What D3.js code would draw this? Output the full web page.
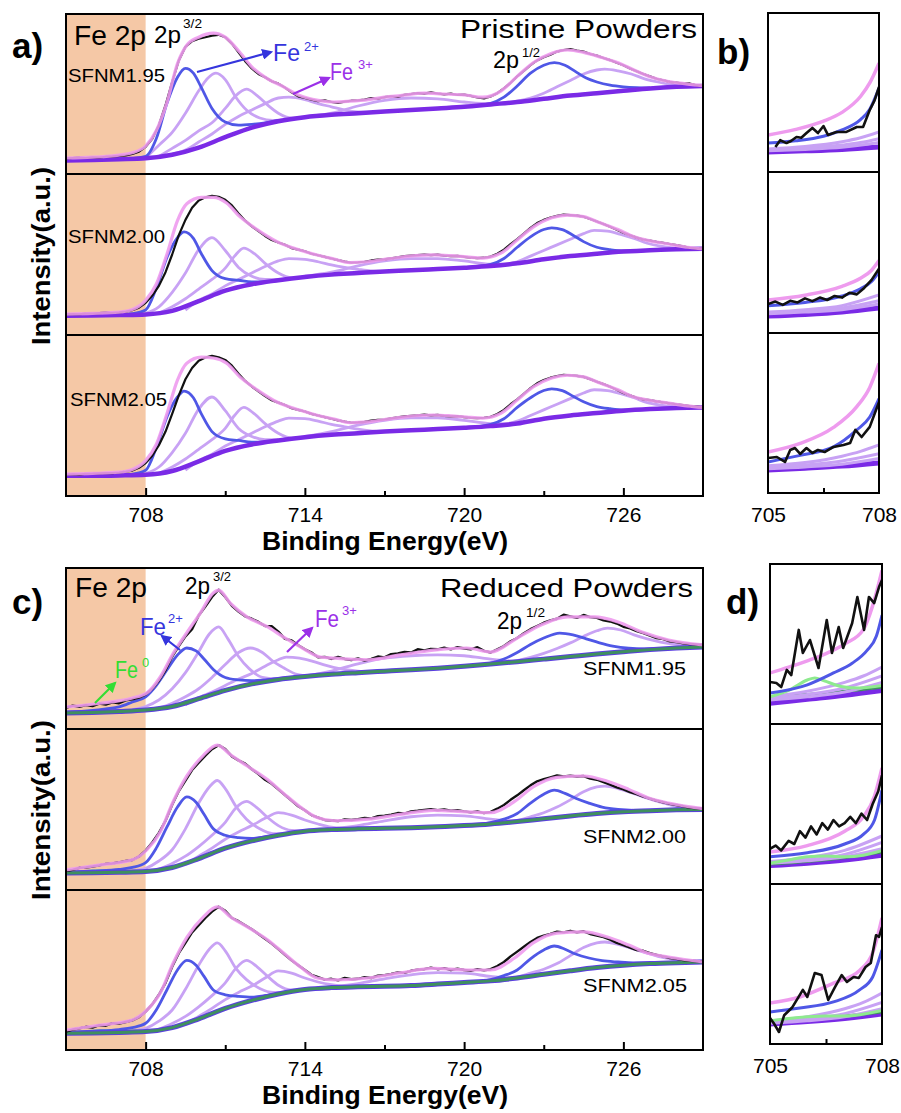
<!DOCTYPE html>
<html><head><meta charset="utf-8">
<script src="https://cdn.jsdelivr.net/npm/d3@7"></script>
<style>
body{margin:0;background:#fff}
svg{display:block}
text{font-family:Arial,"Liberation Sans",sans-serif}
</style>
</head><body>
<svg id="chart" width="901" height="1113"></svg>
<script>
// ---------------- DATA ----------------
const eMin = 705, eMax = 729;
const majorTicks = [708, 714, 720, 726];
const minorTicks = [711, 717, 723];
const zoomTicks = [705, 708];
const zoomMinor = [706.5];
const bgStep = 1;      // background values every 1 eV from 705
const dataStep = 0.25; // measured spectrum every 0.25 eV from 705

// ---- a1 : pristine SFNM1.95 ----
const a1Bg = [8.5,8.8,9.2,9.8,12,16.5,23,29,33,35.5,37,38,39,40,41,42,43.5,45,47,49,50.5,52,53.5,54.5,55];
const a1Fe2a = [[707,9.3],[707.5,9.8],[708,11],[708.4,22],[708.8,44],[709.2,60.5],[709.5,66],[709.8,63],[710.1,54],[710.5,41],[711,32.5],[711.5,30.5],[712,31],[712.5,32],[713,33.5]];
const a1Fe2b = [[720,42],[721,44.2],[721.5,48],[722,55],[722.5,63],[723,68],[723.4,69.6],[723.8,68],[724.2,64],[724.6,60],[725,57.5],[725.5,55.5],[726,54.5],[726.5,54],[727,53.8]];
const a1Fe3a = [[708,10],[708.5,18],[709,26],[709.5,38],[710,52],[710.35,60],[710.65,63],[711,59],[711.4,48],[711.8,40],[712.3,35],[712.8,33.5],[713.3,34.2]];
const a1Fe3b = [[708.5,11],[709,16],[709.5,21],[710,27],[710.5,32],[711,41],[711.4,49],[711.8,53],[712.2,49],[712.6,43],[713,38],[713.5,35],[714,35.5]];
const a1Fe3c = [[709,12.5],[709.5,15],[710,20],[710.5,25],[711,31],[711.5,36],[712,40],[712.5,44],[713,47.5],[713.4,48],[714,46.5],[714.5,44],[715,42],[715.5,40],[716,38.8],[716.5,38.5]];
const a1Sat = [[714,35.6],[715,38],[716,42.5],[717,46],[718,47.5],[719,47],[720,45],[721,43.8],[722,45]];
const a1Fe3d = [[721,43.5],[722,45.5],[722.5,47.5],[723,50.5],[723.5,54.5],[724,58.5],[724.5,62.5],[725,65],[725.3,65.6],[725.8,64.5],[726.3,62.5],[726.8,59.5],[727.3,57.5],[727.8,56],[728.5,55],[729,55]];
const a1Fit = [[705,10],[706,10.5],[707,11.8],[707.5,13.3],[708,17.5],[708.4,27],[708.8,44.5],[709.2,69],[709.55,80.5],[710,85.5],[710.55,88],[711,85.5],[711.5,77],[712,67],[712.6,59.5],[713.2,54.5],[713.8,49],[714.5,46],[715.1,45],[715.7,45.5],[716.4,46.5],[717,48],[717.6,49],[718.5,50.5],[719.2,50],[720,49.4],[720.7,48],[721.4,52],[722,61],[722.6,69.5],[723.3,75.5],[723.9,77.5],[724.5,76],[725.15,73],[725.8,69.5],[726.4,65],[727,60.8],[727.7,57.8],[728.3,56.5],[729,55.2]];
const a1Data = [
 9.8,10,10.2,10, 10.4,10.3,10.8,11, 11.3,11.6,12.5,14, 17,22,30.5,43, 57.5,71,79.5,83,
 84.5,85.5,86.5,87, 85.5,81.5,76,70.5, 66,62.5,60.5,58, 56.5,54,51,48.5, 47.5,46.5,45.5,46,
 45,44.5,45.2,45.8, 46,46.5,47.4,47, 48,48.6,48.2,49.5, 50,50.6,50.2,51, 50.3,49.8,50.2,49.4,
 49.6,48.8,47.8,47.2, 48.5,50.5,53.5,57, 61,64.5,68,71, 73,74.5,76.5,77.5, 78,77.2,76.5,75,
 74,72.5,71.2,69.5, 68,66,64.2,62.5, 61,59.5,58.6,57.6, 57.2,56.5,56.6,55.5, 55.2];

// ---- a2 : pristine SFNM2.00 ----
const a2Bg = [12,12.1,12.4,12.8,15,21,27.5,31.5,34,36,37.5,38.5,39.5,40.2,41,41.8,42.8,44.5,47,49,50.5,51.8,52.7,53.2,53.5];
const a2Fe2a = [[707,12.6],[707.5,13.2],[708,15.5],[708.4,29],[708.8,48],[709.2,60.5],[709.45,64],[709.8,60],[710.1,50.5],[710.5,40],[711,35],[711.5,34],[712,33],[712.5,33],[713,34]];
const a2Fe2b = [[720,41.8],[721,43.8],[721.5,47.5],[722,54.5],[722.5,61],[723,65.5],[723.3,66.5],[723.7,65.5],[724.1,62],[724.5,58],[725,54.5],[725.5,53],[726,52.2],[726.5,52.2],[727,52.6]];
const a2Fe3a = [[708,13.5],[708.5,17.5],[709,26.5],[709.5,38.5],[710,53],[710.5,60.5],[711,52.5],[711.5,42],[712,36.5],[712.5,34.5],[713,34.5]];
const a2Fe3b = [[708.5,13.5],[709,17.5],[709.5,22.5],[710,28.5],[710.5,34.5],[711,41.5],[711.35,49],[711.7,54],[712.1,50.5],[712.5,44.5],[713,38.5],[713.5,35.5],[714,36]];
const a2Fe3c = [[709.5,15.5],[710,21.5],[710.5,25.5],[711,30.5],[711.5,34.5],[712,38.5],[712.5,42.5],[713,46],[713.4,47.5],[714,47],[714.5,45.5],[715,43.5],[715.5,42],[716,40.8],[716.5,39.8],[717,39.5]];
const a2Sat = [[714,36.5],[715,39],[716,43],[717,46],[718,47.5],[719,47.5],[720,46],[721,44],[721.8,44],[722.5,45.5]];
const a2Fe3d = [[721,42.8],[722,45.5],[722.5,49],[723,52.5],[723.5,56],[724,59.5],[724.5,63],[724.9,65],[725.4,64.5],[725.9,62.5],[726.4,60],[726.9,57],[727.4,55.2],[728,54],[729,53.5]];
const a2Fit = [[705,13],[706,13.4],[707,14.2],[707.5,15.8],[708,21.5],[708.4,31.5],[708.8,50],[709.2,71],[709.55,81.5],[710.1,85.5],[710.55,85.5],[711.05,82],[711.55,73.5],[712.2,65.5],[712.95,58],[713.8,52.8],[714.5,49.5],[715.1,47.2],[715.7,45],[716.35,45.5],[717,47],[717.6,48.3],[718.3,49.5],[718.85,49.8],[719.5,49.3],[720.1,48.5],[720.7,47.8],[721.4,51],[722,59],[722.6,67],[723.3,72.8],[723.9,74.5],[724.5,73.5],[725.15,69.5],[725.8,65.5],[726.4,61],[727,58.5],[727.7,56.5],[728.4,54.5],[729,53.5]];
const a2Data = [
 12.8,13,12.9,13.3, 13.3,13.6,13.9,13.8, 14,14.6,15.4,17, 20,24.5,30.5,39, 50,62,71.5,79,
 83.5,85.5,86.5,85.8, 84,80.5,75.5,71, 67.5,64.5,61.5,59, 57.5,56,54,53, 52,50.5,49.5,48.5,
 47.5,46.5,45.6,45, 45.2,45.5,46.3,46.8, 47,47.6,48.2,49, 49.3,49.6,50,49.6, 49.9,49.3,49,49.1,
 48.5,48,47.8,48, 48.7,50.5,53,56.5, 59.5,63,66.5,69.5, 71.5,73,74,74.8, 74.5,74.1,73.5,72,
 70.5,69,67.2,65.4, 63.5,62,60.5,59.3, 58.6,57.8,57.2,56.5, 55.8,55,54.2,53.8, 53.5];

// ---- a3 : pristine SFNM2.05 ----
const a3Bg = [12.6,12.6,12.8,13.2,15.5,21.5,28,32,34.5,36.5,38,39,40,40.8,41.6,42.4,43.4,45,48,50,51.5,53,54,54.7,55];
const a3Fe2a = [[707,13],[707.5,13.6],[708,16],[708.4,30],[708.8,49],[709.2,61.5],[709.45,65.2],[709.8,61],[710.1,51],[710.5,40],[711,35.5],[711.5,34.5],[712,33.5],[712.5,33.5],[713,34.5]];
const a3Fe2b = [[720,42.4],[721,44.5],[721.5,48],[722,55],[722.5,61],[723,65.5],[723.3,66.5],[723.7,65.5],[724.1,62],[724.5,58.5],[725,55.5],[725.5,54.2],[726,53.5],[726.5,53.5],[727,54]];
const a3Fe3a = [[708,14],[708.5,18],[709,27],[709.5,39],[710,54],[710.5,61.5],[711,53],[711.5,42],[712,37],[712.5,35],[713,35]];
const a3Fe3b = [[708.5,14],[709,18],[709.5,23],[710,29],[710.5,35],[711,42],[711.35,50],[711.7,55],[712.1,51],[712.5,45],[713,39],[713.5,36],[714,36.5]];
const a3Fe3c = [[709.5,16],[710,22],[710.5,26],[711,31],[711.5,35],[712,39],[712.5,43],[713,46.5],[713.4,48.4],[714,48],[714.5,46.5],[715,44.5],[715.5,43],[716,41.5],[716.5,40.5],[717,40]];
const a3Sat = [[714,37],[715,40],[716,44],[717,47],[718,48.5],[719,48.5],[720,47],[721,45],[721.8,45],[722.5,46.5]];
const a3Fe3d = [[721,43.5],[722,46.5],[722.5,50],[723,53.5],[723.5,57],[724,60.5],[724.5,64],[724.9,66],[725.4,65.5],[725.9,63.5],[726.4,61],[726.9,58],[727.4,56.5],[728,55.5],[729,55]];
const a3Fit = [[705,13.6],[706,14],[707,14.8],[707.5,16.5],[708,22],[708.4,32],[708.8,51],[709.2,72],[709.55,82.5],[710.1,86.3],[710.55,85.7],[711.05,82.5],[711.55,74],[712.2,66],[712.95,58.4],[713.8,53.4],[714.5,50],[715.1,47.8],[715.7,45.5],[716.35,46],[717,47.5],[717.6,48.8],[718.3,50],[718.85,50.3],[719.5,49.8],[720.1,49],[720.7,48.4],[721.4,51.5],[722,59.6],[722.6,67.7],[723.3,73.3],[723.9,75],[724.5,74],[725.15,70],[725.8,66],[726.4,61.5],[727,59.5],[727.7,57.7],[728.4,56],[729,55]];
const a3Data = [
 13.2,13.5,13.3,13.8, 13.9,14.1,14.3,14.2, 14.6,15.1,15.8,17.5, 20.5,25,31.5,40, 51,62.5,72.5,79.5,
 84,86,87,86.2, 84.5,81,76,71.5, 68,65,62,59.5, 58,56.5,54.5,53.5, 52.5,51,50,49,
 48,47,46.2,45.5, 45.7,46,46.8,47.3, 47.5,48.2,48.8,49.5, 49.8,50.1,50.5,50.1, 50.4,49.8,49.5,49.6,
 49,48.5,48.4,48.6, 49.2,51,53.5,57, 60,63.5,67,70, 72,73.5,74.5,75.3, 75,74.6,74,72.6,
 71,69.5,67.8,66, 64,62.5,61,60, 59.5,58.8,58.2,57.5, 57,56.5,55.8,55.5, 55];

// ---- c1 : reduced SFNM1.95 ----
const c1Bg = [9.9,10.3,10.9,11.8,14,18.8,24,28,30.8,32.6,34,35,35.9,36.8,37.8,39,40.3,41.8,43.4,45,46.6,48,49.3,50.3,51];
const c1Fe0 = [[705,10.2],[705.5,10.8],[706,11.5],[706.4,12],[706.8,11.8],[707.2,11.3],[707.6,11.5],[708,12]];
const c1Fe2a = [[705,10.4],[706,11.5],[706.5,12.5],[707,13.7],[707.5,16.8],[708,20],[708.4,27],[708.8,36.6],[709.2,46],[709.55,50.3],[709.9,48.5],[710.2,43.5],[710.55,37],[711,32],[711.5,30.5],[712,30],[712.5,30.5],[713,31.2]];
const c1Fe2b = [[720,39],[721,41],[721.5,43.5],[722,47.5],[722.5,52.5],[723,56.5],[723.6,59.6],[724.1,58.5],[724.6,56],[725.1,53.5],[725.6,51.5],[726.2,50.2],[726.8,49.8],[727.5,50]];
const c1Fe3a = [[707.5,12],[708,14],[708.5,18],[709,25],[709.5,35],[710,48],[710.4,59],[710.75,63.4],[711.1,56],[711.5,45],[711.9,37.5],[712.4,32],[713,31]];
const c1Fe3b = [[708.5,13],[709,16],[709.5,20],[710,25],[710.5,32],[711,40],[711.5,47.5],[711.95,50.3],[712.4,47.5],[712.8,42],[713.2,38],[713.7,34],[714.2,33]];
const c1Fe3c = [[709.5,15],[710,19.5],[710.5,23],[711,27],[711.5,31],[712,34.5],[712.5,39],[713,43],[713.3,44.7],[713.8,44],[714.3,42],[714.8,39.5],[715.3,37.5],[716,36],[716.5,35.5]];
const c1Sat = [[714,33],[715,36],[716,40.5],[717,44],[718,45.5],[719,46],[720,45.5],[720.7,44],[721.5,42.5],[722,42]];
const c1Fe3d = [[721,40.5],[722,42.5],[722.5,44.5],[723,47],[723.5,50],[724,53.5],[724.5,57.5],[725,61],[725.4,62.7],[725.9,61.5],[726.4,58.5],[726.9,56],[727.4,54],[728,52.5],[729,51.5]];
const c1Fit = [[705,13.7],[706.3,16],[707.5,19.3],[708.05,22.4],[708.55,32.3],[709.04,47],[709.56,60],[710.06,72],[710.55,84.5],[710.75,86.3],[711.2,78],[711.83,69.5],[712.6,63.4],[713.2,57],[713.83,51],[714.58,44.7],[715.1,44],[716.4,43],[717.6,46],[718.85,49],[720.1,50.3],[721,47.8],[722,56.5],[722.9,64.6],[723.9,69.6],[724.9,69.6],[725.8,66.5],[726.7,60.2],[727.7,55.3],[729,52.2]];
const c1Data = [
 13.2,14.5,13.8,14.8, 14.2,15.8,15.2,16.6, 16,17.8,18.5,19.5, 21.5,25,30,36.5, 45,51.5,57.5,62,
 70.5,76,82,86.5, 82,76.5,73,70, 68.5,66.5,64,63.8, 60.5,56,55,52, 49.5,47.5,44.5,44.8,
 43.5,44.8,43.5,42.8, 43.8,42.5,43.5,45, 44.5,46.5,47,47.8, 47.5,49.5,48.8,49.8, 49.5,50.5,49.5,50.8,
 50,49.5,50.8,48.5, 47.5,49.5,51.5,54.5, 56.5,59.5,62,64, 66,67.5,68.5,71, 70,69,70.8,69.5,
 69,67.5,66.8,65.5, 63.5,62.5,60.8,59.5, 58,56.5,55.8,54.5, 54,53.2,52.8,52.5, 52.2];

// ---- c2 : reduced SFNM2.00 ----
const c2Bg = [10.5,10.7,11,11.5,14,19.5,26,30.5,34,36.5,37.5,38,38.3,38.7,39.3,40,41,42.5,44.3,46,47.5,48.6,49.3,49.8,50];
const c2Fe0 = [[705,10.8],[705.5,11.3],[706,11.9],[706.5,12.2],[707,11.9],[707.5,11.8],[708,12]];
const c2Fe2a = [[705,11],[706,11.8],[707,12.8],[707.5,14],[708,17],[708.4,26],[708.8,39],[709.2,51.5],[709.55,57.8],[709.9,54.5],[710.2,47],[710.55,38],[711,34],[711.5,32.5],[712,32],[712.5,33],[713,34.3]];
const c2Fe2b = [[720,40],[721,41.8],[721.5,44],[722,47.5],[722.5,54],[723,59.5],[723.4,62],[723.8,60],[724.2,57],[724.7,54],[725.2,51.5],[725.8,50],[726.4,49.5],[727,49.5]];
const c2Fe3a = [[707.5,12],[708,13.5],[708.5,18],[709,25],[709.5,38],[710,54],[710.4,64],[710.7,68],[711,63],[711.4,52],[711.8,44],[712.3,38],[712.8,35],[713.3,35]];
const c2Fe3b = [[708.5,13],[709,16.5],[709.5,21],[710,27],[710.5,34],[711,42],[711.4,51],[711.8,55],[712.2,51],[712.6,45],[713,40],[713.5,37],[714,36.8]];
const c2Fe3c = [[709.5,16],[710,21],[710.5,26],[711,31.5],[711.5,36],[712,40],[712.5,44.5],[713,48],[713.5,46.5],[714,43.5],[714.5,41],[715,39],[715.5,38.2],[716,38]];
const c2Sat = [[714,36.5],[715,38],[716,40],[717,43],[718,45.5],[719,46.5],[720,46],[721,44],[721.7,43],[722.3,43]];
const c2Fe3d = [[721,41.5],[722,43.2],[722.5,45.5],[723,48],[723.5,51.5],[724,56],[724.5,61],[725,64],[725.3,64.5],[725.8,63],[726.3,60.5],[726.8,57.5],[727.3,55],[728,52],[729,50.5]];
const c2Fit = [[705,12.5],[706.3,15.6],[707.5,18.8],[708.05,25],[708.55,36],[709.04,55],[709.56,71],[710.17,83.5],[710.7,90],[711.2,84],[711.83,77],[712.6,68.5],[713.2,60],[713.83,51.5],[714.46,45],[715.1,43],[716.4,44],[717.6,47],[718.85,49.5],[720.1,48.5],[721,48],[721.9,55],[722.6,64],[723.5,70],[724.5,70.8],[725.4,67.5],[726.2,62.5],[726.9,57.5],[727.7,54],[729,50.5]];
const c2Data = [
 11.8,12.5,13.8,14, 14.6,15.3,16.2,16.5, 17.2,18,18.6,20.8, 24.5,29.5,35.5,43, 53,61.5,68,74.5,
 79,83.5,87.5,90, 87.5,83,80.5,78.5, 75,72,68.5,66, 62.5,59,55.5,52, 49.5,46.5,45,43.5,
 43.2,42.8,43.8,43.5, 44,44.8,44.5,45.8, 46.2,46.8,47.8,47.5, 48.8,49.2,49.8,50.2, 49.5,50,49.2,49.5,
 48.8,48.2,48.8,47.8, 48.5,50.5,52.8,56, 58.8,62,65,67.5, 68.8,70,71.2,70.5, 71,70.5,70.8,69.2,
 68.5,67,65.5,63.8, 62.5,60.8,59.5,58, 56.8,55.5,54.5,53.5, 52.8,52,51.2,50.8, 50.5];

// ---- c3 : reduced SFNM2.05 ----
const c3Bg = [10.4,10.6,11,11.5,14,19.5,26,31,35,37.8,39,39.5,39.8,40.3,41.2,42.2,43.2,45,47.3,49.5,51.5,53,54,54.6,55];
const c3Fe0 = [[705,10.8],[705.5,11.3],[706,11.9],[706.5,12.3],[707,12.1],[707.5,12],[708,12.2]];
const c3Fe2a = [[705,11],[706,11.8],[707,12.8],[707.5,14],[708,16.7],[708.4,25],[708.8,37.5],[709.2,50],[709.55,56],[709.9,53],[710.2,46],[710.55,37.5],[711,34.5],[711.5,33.5],[712,33],[712.5,34],[713,35.3]];
const c3Fe2b = [[720,42.2],[721,44],[721.5,46.5],[722,50],[722.5,57],[723,62.5],[723.4,65],[723.8,63],[724.2,60],[724.7,57.5],[725.2,55.8],[725.8,55],[726.4,54.5],[727,54.5]];
const c3Fe3a = [[707.5,12],[708,13.5],[708.5,18],[709,25],[709.5,38],[710,53],[710.4,63],[710.7,66.9],[711,62],[711.4,51],[711.8,44],[712.3,38.5],[712.8,36],[713.3,36]];
const c3Fe3b = [[708.5,13],[709,16.5],[709.5,21],[710,27],[710.5,34],[711,42],[711.4,51],[711.8,56],[712.2,52],[712.6,46],[713,40.5],[713.5,37.5],[714,38]];
const c3Fe3c = [[709.5,16],[710,21],[710.5,26],[711,31.5],[711.5,36],[712,40],[712.5,45],[713,49.4],[713.5,48],[714,45],[714.5,42.5],[715,40.8],[715.5,39.8],[716,39.5]];
const c3Sat = [[714,38],[715,39.5],[716,41.5],[717,44.5],[718,47],[719,48.3],[720,48],[721,46],[721.7,45],[722.3,45.5]];
const c3Fe3d = [[721,43.5],[722,45.5],[722.5,48],[723,50.5],[723.5,54],[724,59],[724.5,64],[725,67],[725.3,67.5],[725.8,66],[726.3,63.5],[726.8,61],[727.3,58.5],[728,56.5],[729,55.5]];
const c3Fit = [[705,12.5],[706.3,15.6],[707.5,18.8],[708.05,25],[708.55,35.6],[709.04,54.4],[709.56,70.6],[710.17,83.1],[710.7,89.4],[711.2,83.1],[711.83,76.9],[712.6,68.8],[713.2,60.6],[713.83,51.9],[714.46,45],[715.1,43.8],[716.4,45],[717.6,48.2],[718.85,51],[720.1,50],[721,50],[721.9,57.5],[722.6,66.9],[723.5,73],[724.5,73.8],[725.4,70.6],[726.2,65.6],[726.9,60.6],[727.7,58.1],[729,55]];
const c3Data = [
 11.5,12.8,13.5,14.5, 14,15.5,15.2,16.8, 16.5,17.5,18.5,20.5, 24,28.5,34.5,42, 52,60.5,67,73.5,
 78,82.5,86.5,89.5, 87,82.5,80.5,78, 75.5,72.5,69.5,66.5, 63,59.5,56,53, 50,47,45.5,44,
 44.5,43.5,45,44.2, 44.5,45.5,45,46.5, 46.8,47.5,48.5,48.2, 49.5,50.2,50.5,51.5, 50.5,51.2,50,50.8,
 50,49.5,50.5,49.8, 50.5,52.5,55,58.5, 61.5,64.5,67.5,70, 71.5,72.5,74,73.5, 74.5,73.5,74.2,72.5,
 71.5,70.5,69,67, 65.5,64,62.5,62, 60.5,59.5,58.5,57.5, 57,56.2,55.8,55.5, 55];

// ---- b : zoom 705-708 of pristine ----
const b1Fit = [[705,23.3],[705.75,26.8],[706.5,32],[707,37.5],[707.5,47.5],[707.75,56],[708,68.5]];
const b1Fe2 = [[705,18.2],[705.75,19.6],[706.5,22.5],[707,26.5],[707.5,33],[707.75,39.5],[708,52.8]];
const b1Data = [[705.2,15.7],[705.33,20],[705.5,18.2],[705.62,19.5],[705.77,22],[705.9,21.5],[706.04,24.5],[706.2,27.7],[706.35,24.5],[706.5,28.9],[706.62,23.3],[706.85,25.2],[707.12,25.2],[707.4,28.3],[707.57,28.3],[707.75,39],[707.88,45],[708,53.5]];
const b1Fe3 = [[[705,14.5],[706,16],[707,19],[707.5,21.5],[708,25.2]],[[705,13.8],[706,15],[707,17],[707.5,18.5],[708,21]],[[705,13.3],[706,14.2],[707,15.5],[708,18.5]]];
const b1Bg = [[705,12.6],[706,13.3],[707,14.2],[708,15.7]];

const b2Fit = [[705,20.5],[706,23.5],[707,29],[707.5,34],[707.8,39],[708,45]];
const b2Fe2 = [[705,17],[706,19],[707,23],[707.5,27.5],[707.8,32],[708,38]];
const b2Data = [[705,18],[705.2,19.5],[705.4,17.5],[705.6,20],[705.8,19],[706,21.5],[706.2,19.8],[706.4,22],[706.6,20.5],[706.8,23],[707,22],[707.2,25],[707.4,24],[707.6,28],[707.8,33],[708,40]];
const b2Fe3 = [[[705,13],[706,14.5],[707,17],[708,23.6]],[[705,12.5],[706,13.5],[707,15.5],[708,20]],[[705,12],[706,13],[707,14.5],[708,18]]];
const b2Bg = [[705,10.5],[706,11.5],[707,13],[708,15.5]];

const b3Fit = [[705,25.6],[705.87,31],[706.77,41],[707.4,54],[707.75,66],[708,81]];
const b3Fe2 = [[705,19.4],[705.87,23.5],[706.77,28.8],[707.4,39.4],[707.75,47.5],[708,59]];
const b3Data = [[705,21.9],[705.24,22.5],[705.46,19.4],[705.6,26.9],[705.73,28.1],[705.87,24.4],[706.04,28.1],[706.2,25],[706.35,26.9],[706.53,25.6],[706.77,28.8],[707.04,30],[707.22,31.3],[707.36,39.4],[707.53,35],[707.75,41.3],[708,56.9]];
const b3Fe3 = [[[705,17],[706,19],[707,23],[707.5,26],[708,30]],[[705,16],[706,17.5],[707,20],[708,24.5]],[[705,15.2],[706,16.3],[707,18],[708,21.5]]];
const b3Bg = [[705,14.4],[706,15.5],[707,16.8],[708,18.8]];

// ---- d : zoom 705-708 of reduced ----
const d1Fit = [[705,31.9],[705.5,35.5],[706,39.5],[706.5,44],[707,50],[707.5,59],[707.75,74],[708,96]];
const d1Fe2 = [[705,19.4],[706,24.5],[706.7,31.9],[707.2,38],[707.6,46],[707.85,55],[708,68]];
const d1Data = [[705,26.3],[705.17,25.6],[705.3,23.1],[705.45,33.8],[705.57,30.6],[705.77,58.8],[705.88,44.4],[706.07,52.5],[706.3,35],[706.52,65],[706.66,44.4],[706.84,60.6],[706.96,47.5],[707.2,63],[707.34,79.4],[707.52,58.8],[707.65,79.4],[707.79,75.6],[707.92,85.6],[708,90]];
const d1Fe0 = [[705,17],[705.5,21],[706,27.5],[706.2,28.8],[706.45,27],[706.9,23.5],[707.4,22.5],[708,24]];
const d1Fe3 = [[[705,17],[706,20.5],[707,26],[707.5,30],[708,35.6]],[[705,16],[706,18.5],[707,22.5],[708,30]],[[705,15],[706,17],[707,20],[708,26]]];
const d1BgG = [[705,17],[706,18.5],[707,20.5],[708,23]];
const d1Bg = [[705,13],[706,15.5],[707,18],[708,21]];

const d2Fit = [[705,20],[706,24],[707,33],[707.5,42],[707.8,55],[708,72.5]];
const d2Fe2 = [[705,17],[706,19.5],[707,25],[707.5,31],[707.8,40],[708,58.8]];
const d2Data = [[705,22],[705.15,24],[705.3,21],[705.5,27],[705.65,25],[705.8,33],[705.95,29],[706.1,36],[706.25,31],[706.4,38],[706.55,34],[706.7,40],[706.85,36],[707,38],[707.15,42],[707.3,38],[707.45,44],[707.6,40],[707.75,50],[707.9,58],[708,68]];
const d2Fe0 = [[705,13],[705.5,15],[706,17],[706.5,17.5],[707,17],[707.5,18],[708,21]];
const d2Fe3 = [[[705,14],[706,16.5],[707,21],[708,30]],[[705,13.5],[706,15],[707,18.5],[708,26]],[[705,13],[706,14.5],[707,17],[708,22]]];
const d2BgG = [[705,12.5],[706,14],[707,16.5],[708,20]];
const d2Bg = [[705,11.5],[706,13],[707,15],[708,18]];

const d3Fit = [[705,25.6],[705.8,29.4],[706.7,38],[707.4,46],[707.75,56.9],[708,78.8]];
const d3Fe2 = [[705,20],[705.8,22.5],[706.7,26.3],[707.4,33.8],[707.75,41.9],[708,58.8]];
const d3Data = [[705,16.3],[705.1,13],[705.24,7.5],[705.38,18],[705.6,23],[705.88,33.8],[706,29.4],[706.2,44.4],[706.38,43.1],[706.56,27.5],[706.74,35.6],[706.92,43.1],[707.06,38.8],[707.24,41.9],[707.38,41.3],[707.56,48.1],[707.7,50.6],[707.84,68],[707.92,67],[708,73]];
const d3Fe0 = [[705,14.5],[706,17],[706.5,17.5],[707,17.5],[708,21]];
const d3Fe3 = [[[705,14.4],[706,17],[707,22],[707.5,26],[708,31.9]],[[705,13.5],[706,15.5],[707,19],[708,26]],[[705,13],[706,14.5],[707,17],[708,22]]];
const d3BgG = [[705,13.8],[706,15.5],[707,17.5],[708,20]];
const d3Bg = [[705,12.5],[706,14],[707,16],[708,18.8]];

// ---------------- DRAWING ----------------
const COL = {fit:"#ee9bee", data:"#111111", fe2:"#4f57e6", fe3:"#c8a2f4", bg:"#7a2ae6",
             bgG:"#3f905e", fe0:"#8eea8e", shade:"#f5c8a6", lblFe2:"#3535dd", lblFe3:"#9b30e8", lblFe0:"#33dd33"};
const svg = d3.select("#chart");
const defs = svg.append("defs");
let clipN = 0;
function clip(x, y, w, h){
  const id = "clip" + (clipN++);
  defs.append("clipPath").attr("id", id).append("rect").attr("x", x).attr("y", y).attr("width", w).attr("height", h);
  return `url(#${id})`;
}
function pairs(vals, start, step){ return vals.map((v, i) => [start + i * step, v]); }

function mk(bg, fe2, fe3, fit, data, fe0){ return {bg, fe2, fe3, fit, data, fe0}; }
const panelASubs = [
  mk(a1Bg, [a1Fe2a, a1Fe2b], [a1Fe3a, a1Fe3b, a1Fe3c, a1Sat, a1Fe3d], a1Fit, a1Data),
  mk(a2Bg, [a2Fe2a, a2Fe2b], [a2Fe3a, a2Fe3b, a2Fe3c, a2Sat, a2Fe3d], a2Fit, a2Data),
  mk(a3Bg, [a3Fe2a, a3Fe2b], [a3Fe3a, a3Fe3b, a3Fe3c, a3Sat, a3Fe3d], a3Fit, a3Data)];
const panelCSubs = [
  mk(c1Bg, [c1Fe2a, c1Fe2b], [c1Fe3a, c1Fe3b, c1Fe3c, c1Sat, c1Fe3d], c1Fit, c1Data, c1Fe0),
  mk(c2Bg, [c2Fe2a, c2Fe2b], [c2Fe3a, c2Fe3b, c2Fe3c, c2Sat, c2Fe3d], c2Fit, c2Data, c2Fe0),
  mk(c3Bg, [c3Fe2a, c3Fe2b], [c3Fe3a, c3Fe3b, c3Fe3c, c3Sat, c3Fe3d], c3Fit, c3Data, c3Fe0)];

const xMain = d3.scaleLinear().domain([eMin, eMax]).range([66, 703]);

function drawMain(tops, subs, reduced){
  const L = 66, R = 703;
  svg.append("rect").attr("x", L).attr("y", tops[0]).attr("width", xMain(708) - L)
     .attr("height", tops[3] - tops[0]).attr("fill", COL.shade);
  subs.forEach((s, i) => {
    const y = d3.scaleLinear().domain([0, 100]).range([tops[i + 1], tops[i]]);
    const g = svg.append("g").attr("clip-path", clip(L, tops[i], R - L, tops[i + 1] - tops[i]));
    const sm = d3.line().x(d => xMain(d[0])).y(d => y(d[1])).curve(d3.curveMonotoneX);
    const ln = d3.line().x(d => xMain(d[0])).y(d => y(d[1]));
    s.fe3.forEach(c => g.append("path").attr("d", sm(c)).attr("fill", "none").attr("stroke", COL.fe3).attr("stroke-width", 2.8));
    if (s.fe0) g.append("path").attr("d", sm(s.fe0)).attr("fill", "none").attr("stroke", COL.fe0).attr("stroke-width", 2.5);
    s.fe2.forEach(c => g.append("path").attr("d", sm(c)).attr("fill", "none").attr("stroke", COL.fe2).attr("stroke-width", 2.8));
    const bgP = pairs(s.bg, eMin, bgStep);
    g.append("path").attr("d", sm(bgP)).attr("fill", "none").attr("stroke", reduced ? "#5a3ee0" : COL.bg).attr("stroke-width", reduced ? 5 : 4.5);
    if (reduced) g.append("path").attr("d", sm(bgP)).attr("fill", "none").attr("stroke", COL.bgG).attr("stroke-width", 3);
    g.append("path").attr("d", ln(pairs(s.data, eMin, dataStep))).attr("fill", "none").attr("stroke", COL.data).attr("stroke-width", reduced ? 2.4 : 2.2).attr("stroke-linejoin", "round");
    g.append("path").attr("d", sm(s.fit)).attr("fill", "none").attr("stroke", COL.fit).attr("stroke-width", 3.2).attr("stroke-opacity", 0.9);
  });
  svg.append("rect").attr("x", L).attr("y", tops[0]).attr("width", R - L).attr("height", tops[3] - tops[0])
     .attr("fill", "none").attr("stroke", "#000").attr("stroke-width", 2);
  [tops[1], tops[2]].forEach(t => svg.append("line").attr("x1", L).attr("x2", R).attr("y1", t).attr("y2", t).attr("stroke", "#000").attr("stroke-width", 2));
  const ax = svg.append("g").attr("transform", `translate(0,${tops[3]})`)
     .call(d3.axisBottom(xMain).tickValues(majorTicks).tickSize(-8).tickFormat(d3.format("d")));
  ax.select(".domain").remove();
  ax.selectAll(".tick line").attr("stroke", "#000").attr("stroke-width", 2);
  ax.selectAll(".tick text").attr("y", 26).attr("dy", 0).attr("font-size", 21).attr("font-family", "Arial, 'Liberation Sans', sans-serif").attr("fill", "#000");
  const axm = svg.append("g").attr("transform", `translate(0,${tops[3]})`)
     .call(d3.axisBottom(xMain).tickValues(minorTicks).tickSize(-5).tickFormat(""));
  axm.select(".domain").remove();
  axm.selectAll(".tick line").attr("stroke", "#000").attr("stroke-width", 2);
}

function drawZoom(L, R, tops, subs){
  const xz = d3.scaleLinear().domain([705, 708]).range([L, R]);
  subs.forEach((s, i) => {
    const y = d3.scaleLinear().domain([0, 100]).range([tops[i + 1], tops[i]]);
    const g = svg.append("g").attr("clip-path", clip(L, tops[i], R - L, tops[i + 1] - tops[i]));
    const sm = d3.line().x(d => xz(d[0])).y(d => y(d[1])).curve(d3.curveMonotoneX);
    const ln = d3.line().x(d => xz(d[0])).y(d => y(d[1]));
    g.append("path").attr("d", sm(s.bg)).attr("fill", "none").attr("stroke", COL.bg).attr("stroke-width", 5);
    if (s.bgG) g.append("path").attr("d", sm(s.bgG)).attr("fill", "none").attr("stroke", COL.bgG).attr("stroke-width", 3);
    s.fe3.forEach(c => g.append("path").attr("d", sm(c)).attr("fill", "none").attr("stroke", COL.fe3).attr("stroke-width", 3));
    if (s.fe0) g.append("path").attr("d", sm(s.fe0)).attr("fill", "none").attr("stroke", COL.fe0).attr("stroke-width", 3);
    g.append("path").attr("d", sm(s.fe2)).attr("fill", "none").attr("stroke", COL.fe2).attr("stroke-width", 3);
    g.append("path").attr("d", sm(s.fit)).attr("fill", "none").attr("stroke", COL.fit).attr("stroke-width", 3.5);
    g.append("path").attr("d", ln(s.data)).attr("fill", "none").attr("stroke", COL.data).attr("stroke-width", 2.6).attr("stroke-linejoin", "round");
  });
  svg.append("rect").attr("x", L).attr("y", tops[0]).attr("width", R - L).attr("height", tops[3] - tops[0])
     .attr("fill", "none").attr("stroke", "#000").attr("stroke-width", 2);
  [tops[1], tops[2]].forEach(t => svg.append("line").attr("x1", L).attr("x2", R).attr("y1", t).attr("y2", t).attr("stroke", "#000").attr("stroke-width", 2));
  const ax = svg.append("g").attr("transform", `translate(0,${tops[3]})`)
     .call(d3.axisBottom(xz).tickValues(zoomTicks).tickSize(0).tickFormat(d3.format("d")));
  ax.select(".domain").remove();
  ax.selectAll(".tick text").attr("y", 29).attr("dy", 0).attr("font-size", 21).attr("font-family", "Arial, 'Liberation Sans', sans-serif").attr("fill", "#000");
  const axm = svg.append("g").attr("transform", `translate(0,${tops[3]})`)
     .call(d3.axisBottom(xz).tickValues(zoomMinor).tickSize(-5).tickFormat(""));
  axm.select(".domain").remove();
  axm.selectAll(".tick line").attr("stroke", "#000").attr("stroke-width", 2);
}

const topsA = [14, 174, 335, 496];
const topsC = [568, 729, 890, 1050];
drawMain(topsA, panelASubs, false);
drawMain(topsC, panelCSubs, true);
drawZoom(768, 879, [13, 172, 333, 493], [
  {bg:b1Bg, fe2:b1Fe2, fe3:b1Fe3, fit:b1Fit, data:b1Data},
  {bg:b2Bg, fe2:b2Fe2, fe3:b2Fe3, fit:b2Fit, data:b2Data},
  {bg:b3Bg, fe2:b3Fe2, fe3:b3Fe3, fit:b3Fit, data:b3Data}]);
drawZoom(770, 882, [564, 724, 884, 1044], [
  {bg:d1Bg, bgG:d1BgG, fe2:d1Fe2, fe3:d1Fe3, fe0:d1Fe0, fit:d1Fit, data:d1Data},
  {bg:d2Bg, bgG:d2BgG, fe2:d2Fe2, fe3:d2Fe3, fe0:d2Fe0, fit:d2Fit, data:d2Data},
  {bg:d3Bg, bgG:d3BgG, fe2:d3Fe2, fe3:d3Fe3, fe0:d3Fe0, fit:d3Fit, data:d3Data}]);

// ---------------- TEXT ----------------
function txt(x, y, s, size, opts = {}){
  const t = svg.append("text").attr("x", x).attr("y", y).text(s).attr("font-size", size).attr("fill", opts.fill || "#000");
  if (opts.anchor) t.attr("text-anchor", opts.anchor);
  if (opts.weight) t.attr("font-weight", opts.weight);
  if (opts.family) t.attr("font-family", opts.family);
  if (opts.len) t.attr("textLength", opts.len).attr("lengthAdjust", "spacingAndGlyphs");
  if (opts.rotate) t.attr("transform", `rotate(${opts.rotate},${x},${y})`);
  return t;
}
const serif = "'Times New Roman','Liberation Serif',serif";
txt(12, 58, "a)", 35, {weight:"bold", family:serif});
txt(717, 64, "b)", 35, {weight:"bold", family:serif});
txt(12, 614, "c)", 35, {weight:"bold", family:serif});
txt(726, 614, "d)", 35, {weight:"bold", family:serif});

// panel a labels
txt(74, 45, "Fe 2p", 27, {len:72});
txt(154, 43, "2p", 24, {len:27});
txt(183, 28, "3/2", 13, {len:19});
txt(697, 38, "Pristine Powders", 26, {anchor:"end", len:237});
txt(493, 68, "2p", 23, {len:26});
txt(522, 57, "1/2", 13, {len:18});
txt(68, 82, "SFNM1.95", 18, {len:97});
txt(68, 243, "SFNM2.00", 18, {len:97});
txt(70, 406, "SFNM2.05", 18, {len:97});
txt(273, 61, "Fe", 24, {fill:COL.lblFe2, len:27});
txt(304, 51, "2+", 13, {fill:COL.lblFe2});
txt(330, 80, "Fe", 24, {fill:COL.lblFe3, len:23});
txt(358, 69, "3+", 13, {fill:COL.lblFe3});

// panel c labels
txt(75, 597, "Fe 2p", 27, {len:72});
txt(185, 594, "2p", 24, {len:25});
txt(213, 581, "3/2", 13, {len:18});
txt(693, 597, "Reduced Powders", 26, {anchor:"end", len:253});
txt(497, 629, "2p", 23, {len:25});
txt(526, 617, "1/2", 13, {len:19});
txt(686, 675, "SFNM1.95", 18, {anchor:"end", len:103});
txt(686, 843, "SFNM2.00", 18, {anchor:"end", len:103});
txt(687, 992, "SFNM2.05", 18, {anchor:"end", len:104});
txt(140, 635, "Fe", 24, {fill:COL.lblFe2, len:26});
txt(168, 623, "2+", 13, {fill:COL.lblFe2});
txt(115, 678, "Fe", 24, {fill:COL.lblFe0, len:23});
txt(142, 667, "0", 13, {fill:COL.lblFe0});
txt(315, 627, "Fe", 24, {fill:COL.lblFe3, len:24});
txt(342, 615, "3+", 13, {fill:COL.lblFe3});

// axis titles
txt(385, 550, "Binding Energy(eV)", 25, {anchor:"middle", weight:"bold", len:246});
txt(385, 1104, "Binding Energy(eV)", 25, {anchor:"middle", weight:"bold", len:246});
txt(50, 256, "Intensity(a.u.)", 25, {anchor:"middle", weight:"bold", rotate:-90, len:178});
txt(50, 810, "Intensity(a.u.)", 25, {anchor:"middle", weight:"bold", rotate:-90, len:180});

// arrows
function arrow(x1, y1, x2, y2, color){
  const id = "ah" + color.replace("#", "");
  if (defs.select("#" + id).empty()){
    defs.append("marker").attr("id", id).attr("viewBox", "0 0 10 10").attr("refX", 8).attr("refY", 5)
      .attr("markerWidth", 5).attr("markerHeight", 5).attr("orient", "auto")
      .append("path").attr("d", "M0,0 L10,5 L0,10 z").attr("fill", color);
  }
  svg.append("line").attr("x1", x1).attr("y1", y1).attr("x2", x2).attr("y2", y2)
    .attr("stroke", color).attr("stroke-width", 2.2).attr("marker-end", `url(#${id})`);
}
arrow(197, 72, 271, 52, COL.lblFe2);
arrow(293, 94, 329, 78, COL.lblFe3);
arrow(180, 650, 162, 636, COL.lblFe2);
arrow(95, 703, 115, 683, COL.lblFe0);
arrow(287, 652, 312, 628, COL.lblFe3);
</script>
</body></html>
